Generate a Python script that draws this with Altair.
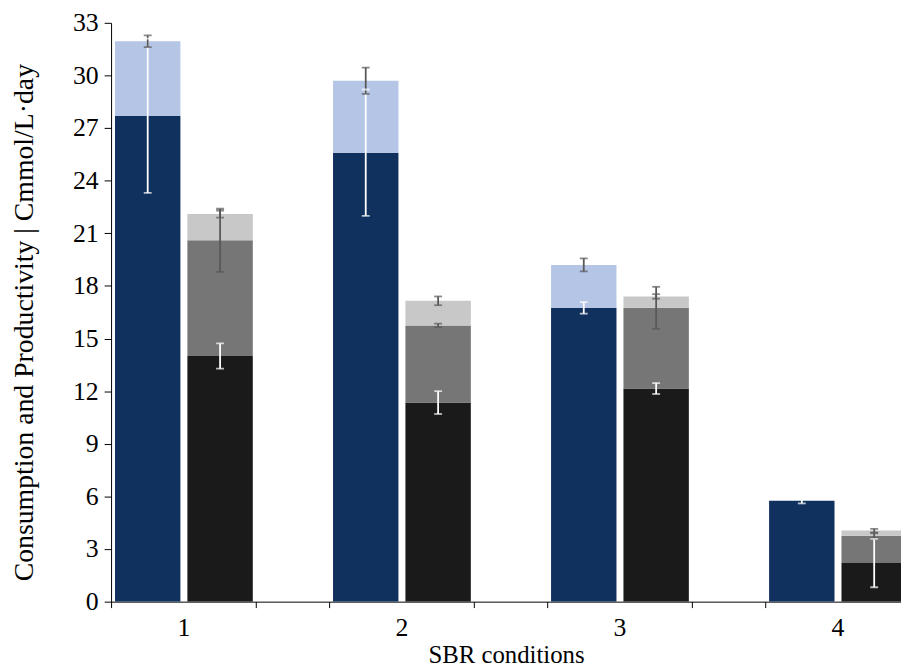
import altair as alt
import pandas as pd

# ---- data ----
categories = [1, 2, 3, 4]

# left bar (consumption): stacked segments
navy_seg = [27.7, 25.6, 16.75, 5.75]
navy_err = [4.4, 3.6, 0.33, 0.15]
lightblue_seg = [4.25, 4.1, 2.45, 0.0]
lightblue_err = [0.33, 0.75, 0.37, 0.0]

# right bar (productivity): stacked segments
black_seg = [14.0, 11.35, 12.15, 2.2]
black_err = [0.72, 0.65, 0.31, 1.38]
gray_seg = [6.6, 4.4, 4.6, 1.55]
gray_err = [1.8, 0.1, 1.2, 0.15]
lightgray_seg = [1.5, 1.4, 0.65, 0.3]
lightgray_err = [0.2, 0.25, 0.13, 0.1]

y_ticks = list(range(0, 34, 3))

series_info = [
    # name, side, segments, errors, fill, error colour
    ("navy", "left", navy_seg, navy_err, "#10305e", "#ffffff"),
    ("lightblue", "left", lightblue_seg, lightblue_err, "#b4c5e6", "#595959"),
    ("black", "right", black_seg, black_err, "#1a1a1a", "#ffffff"),
    ("gray", "right", gray_seg, gray_err, "#767676", "#595959"),
    ("lightgray", "right", lightgray_seg, lightgray_err, "#c8c8c8", "#595959"),
]

rows = []
base = {("left", c): 0.0 for c in categories}
base.update({("right", c): 0.0 for c in categories})
for order, (name, side, segs, errs, fill, ecol) in enumerate(series_info):
    for c, s, e in zip(categories, segs, errs):
        b = base[(side, c)]
        rows.append(dict(cat=c, side=side, series=name, order=order,
                         y0=b, y1=b + s, err=e, seg=s))
        base[(side, c)] = b + s
df = pd.DataFrame(rows)

names = [s[0] for s in series_info]
fills = [s[4] for s in series_info]
ecols = [s[5] for s in series_info]

FONT = "Liberation Serif"
BAR_W = 0.3
LEFT_OFF = -0.314
RIGHT_OFF = 0.018
TICK_OFF = 0.332

x_min = categories[0] - TICK_OFF
x_max = categories[-1] + 0.291

x_tick_vals = sorted(categories + [c - TICK_OFF for c in categories] + [c + TICK_OFF for c in categories])

x_scale = alt.Scale(domain=[x_min, x_max], nice=False, zero=False)
y_scale = alt.Scale(domain=[0, 33], nice=False)

base_chart = alt.Chart(df).transform_calculate(
    xs=f"datum.cat + (datum.side == 'left' ? {LEFT_OFF} : {RIGHT_OFF})",
    xe=f"datum.cat + (datum.side == 'left' ? {LEFT_OFF} : {RIGHT_OFF}) + {BAR_W}",
    xc=f"datum.cat + (datum.side == 'left' ? {LEFT_OFF} : {RIGHT_OFF}) + {BAR_W / 2}",
    elo="datum.y1 - datum.err",
    ehi="datum.y1 + datum.err",
)

x_axis = alt.Axis(
    values=x_tick_vals,
    labelExpr="datum.value % 1 === 0 ? format(datum.value, 'd') : ''",
    tickOpacity={"condition": {"test": "datum.value % 1 !== 0", "value": 1}, "value": 0},
    title="SBR conditions",
    tickSize=6,
    labelPadding=7,
    labelFontSize=26,
    labelOverlap=False,
    labelFlush=False,
    titleFontSize=25,
    titlePadding=2,
)

y_axis = alt.Axis(
    values=y_ticks,
    title="Consumption and Productivity | Cmmol/L·day",
    tickSize=7,
    labelPadding=6,
    labelFontSize=26,
    titleFontSize=28,
    titlePadding=34,
    titleY=302,
)

color_fill = alt.Color("series:N", scale=alt.Scale(domain=names, range=fills), legend=None)
color_err = alt.Color("series:N", scale=alt.Scale(domain=names, range=ecols), legend=None)

bars = base_chart.mark_bar(clip=True).encode(
    x=alt.X("xs:Q", scale=x_scale, axis=x_axis),
    x2="xe:Q",
    y=alt.Y("y0:Q", scale=y_scale, axis=y_axis),
    y2="y1:Q",
    color=color_fill,
)

err_base = base_chart.transform_filter("datum.seg > 0")

err_line = err_base.mark_rule(strokeWidth=1.8, clip=True).encode(
    x=alt.X("xc:Q", scale=x_scale, axis=x_axis),
    y=alt.Y("elo:Q", scale=y_scale, axis=y_axis),
    y2="ehi:Q",
    color=color_err,
)

cap_lo = err_base.mark_tick(orient="horizontal", size=8, thickness=1.8, clip=True).encode(
    x=alt.X("xc:Q", scale=x_scale, axis=x_axis),
    y=alt.Y("elo:Q", scale=y_scale, axis=y_axis),
    color=color_err,
)
cap_hi = err_base.mark_tick(orient="horizontal", size=8, thickness=1.8, clip=True).encode(
    x=alt.X("xc:Q", scale=x_scale, axis=x_axis),
    y=alt.Y("ehi:Q", scale=y_scale, axis=y_axis),
    color=color_err,
)

chart = alt.layer(bars, err_line, cap_lo, cap_hi).resolve_scale(color="independent").properties(
    width=797,
    height=584,
    padding={"left": 104, "top": 12, "right": 0, "bottom": 66},
    autosize=alt.AutoSizeParams(type="none"),
    background="white",
).configure_view(stroke=None).configure_axis(
    labelFont=FONT,
    titleFont=FONT,
    labelColor="#000000",
    titleColor="#000000",
    titleFontWeight="normal",
    domainColor="#000000",
    tickColor="#000000",
    grid=False,
)

chart.save("out.html", embed_options={"renderer": "svg", "actions": False})
